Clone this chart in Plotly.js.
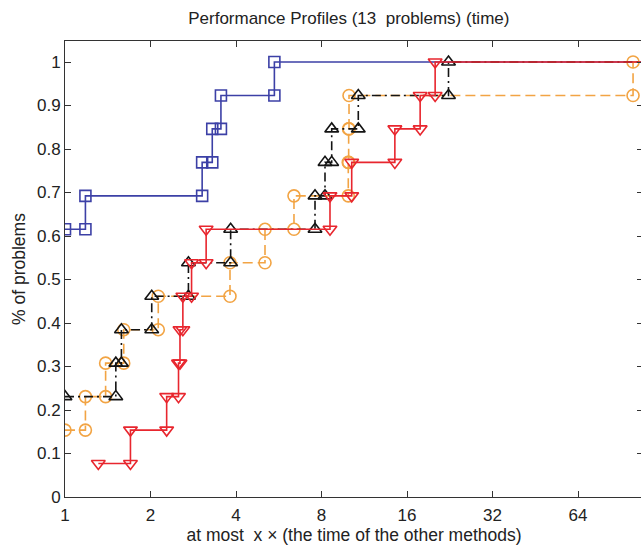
<!DOCTYPE html>
<html>
<head>
<meta charset="utf-8">
<script src="https://cdn.plot.ly/plotly-3.0.1.min.js"></script>
<style>
html,body{margin:0;padding:0;overflow:hidden;background:#fff;}
#chart{width:643px;height:547px;}
</style>
</head>
<body>
<div id="chart"></div>
<script>
// Performance ratios (sorted) per method, one value per problem
const N_PROBLEMS = 13;
const ratiosBlue   = [1,1,1,1,1,1,1,1,1.18,3.04,3.30,3.54,5.46];
const ratiosOrange = [1,1,1.18,1.39,1.61,2.13,3.81,5.06,6.40,9.94,9.97,10.0,100];
const ratiosBlack  = [1,1,1,1.51,1.58,2.02,2.72,3.83,7.59,8.23,8.69,10.78,22.4];
const ratiosRed    = [1.31,1.70,2.28,2.51,2.54,2.60,2.79,3.14,8.57,10.22,14.5,17.8,20.1];
const X_END = 128;

const xTickVals = [1,2,4,8,16,32,64];
const xTickText = ['1','2','4','8','16','32','64'];
const yTickVals = [0,0.1,0.2,0.3,0.4,0.5,0.6,0.7,0.8,0.9,1];
const yTickText = ['0','0.1','0.2','0.3','0.4','0.5','0.6','0.7','0.8','0.9','1'];

function staircase(ratios) {
  const u = [], c = [];
  ratios.forEach(r => {
    if (u.length && u[u.length-1] === r) c[c.length-1] += 1;
    else { u.push(r); c.push((c.length ? c[c.length-1] : 0) + 1); }
  });
  const xs = [u[0]], ys = [c[0]/N_PROBLEMS];
  for (let i = 1; i < u.length; i++) {
    xs.push(u[i]); ys.push(c[i-1]/N_PROBLEMS);
    xs.push(u[i]); ys.push(c[i]/N_PROBLEMS);
  }
  xs.push(X_END); ys.push(c[c.length-1]/N_PROBLEMS);
  return {xs, ys};
}

function trace(ratios, color, symbol, dash, size) {
  const s = staircase(ratios);
  return {
    x: s.xs, y: s.ys, type: 'scatter', mode: 'lines+markers',
    line: {color: color, width: 1.6, dash: dash},
    marker: {symbol: symbol, size: size, color: color, line: {color: color, width: 1.6}},
    showlegend: false, hoverinfo: 'skip'
  };
}

const data = [
  trace(ratiosBlue,   '#3c40a6', 'square-open',        'solid',            11),
  trace(ratiosOrange, '#f2a444', 'circle-open',        '10px,5px',         12),
  trace(ratiosBlack,  '#141414', 'triangle-up-open',   '9px,4px,2px,4px',  12),
  trace(ratiosRed,    '#e8262e', 'triangle-down-open', 'solid',            12)
];

const fontFam = '"Liberation Sans", Arial, Helvetica, sans-serif';
const axisCommon = {
  showline: true, linecolor: '#333', linewidth: 1, mirror: 'allticks',
  ticks: 'inside', ticklen: 6, tickcolor: '#333', tickwidth: 1,
  showgrid: false, zeroline: false,
  tickfont: {family: fontFam, size: 17, color: '#222'}
};

const layout = {
  width: 643, height: 547,
  margin: {l: 65, r: 0, t: 41, b: 50},
  paper_bgcolor: '#fff', plot_bgcolor: '#fff',
  title: {text: 'Performance Profiles (13  problems) (time)', x: 0.5425, xanchor: 'center', y: 0.978, yanchor: 'top',
          font: {family: fontFam, size: 17, color: '#222'}},
  xaxis: Object.assign({}, axisCommon, {
    type: 'log', range: [0, Math.log10(Math.pow(2, 578/85.5))],
    tickvals: xTickVals, ticktext: xTickText, ticklabelstandoff: 3,
    title: {text: 'at most  x \u00d7 (the time of the other methods)', standoff: 3,
            font: {family: fontFam, size: 17.5, color: '#222'}}
  }),
  yaxis: Object.assign({}, axisCommon, {
    range: [0, 456/435],
    tickvals: yTickVals, ticktext: yTickText,
    title: {text: '% of problems', standoff: 6,
            font: {family: fontFam, size: 17.5, color: '#222'}}
  })
};

Plotly.newPlot('chart', data, layout, {displayModeBar: false, staticPlot: true});
</script>
</body>
</html>
